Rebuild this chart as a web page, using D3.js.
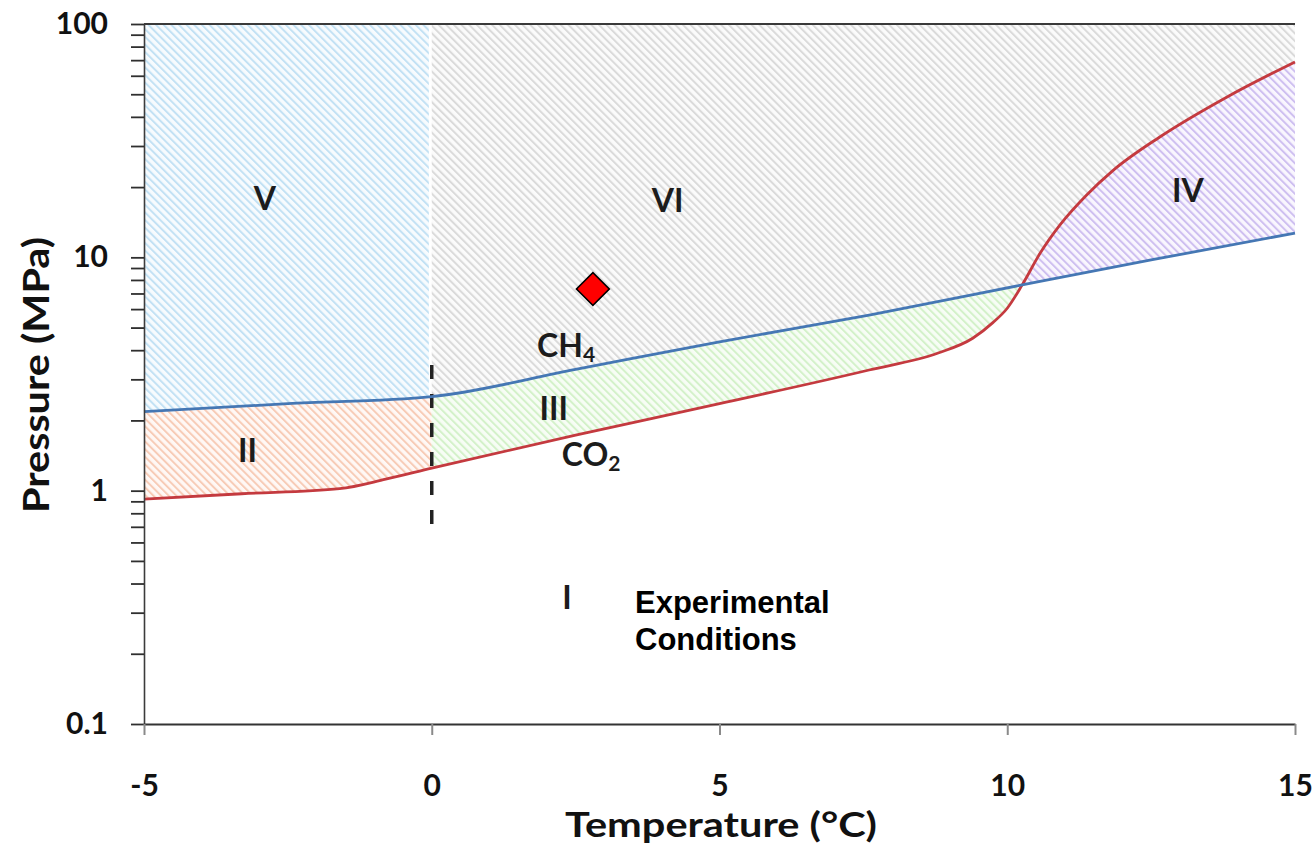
<!DOCTYPE html>
<html>
<head>
<meta charset="utf-8">
<script src="https://cdn.jsdelivr.net/npm/d3@7"></script>
<style>
  body { margin: 0; background: #ffffff; }
  svg { display: block; }
</style>
</head>
<body>
<svg id="chart" width="1315" height="848"></svg>
<script>
// Hydrate equilibrium curves: temperature (°C) vs pressure (MPa)
const ch4Temp = [-5, -2.5, 0, 2.5, 5, 7.6, 10.26, 12.5, 15];
const ch4Pres = [2.18, 2.36, 2.53, 3.31, 4.34, 5.66, 7.62, 9.75, 12.7];

const co2Temp = [-5, -3.3, -1.6, -0.8, 0, 2.5, 5, 7.6, 8.8, 9.4, 9.75, 10.0, 10.26, 10.57, 10.92, 11.38, 11.84, 12.65, 13.82, 15];
const co2Pres = [0.92, 0.97, 1.02, 1.12, 1.25, 1.73, 2.36, 3.29, 3.89, 4.5, 5.25, 6.05, 7.62, 10.4, 13.8, 18.5, 23.6, 32.8, 48.7, 68.8];

// Ice point divider
const iceTemp = [0, 0];
const icePres = [0.68, 3.46];

// Experimental point
const expTemp = [2.8];
const expPres = [7.32];

// Axis ticks
const xTicks = [-5, 0, 5, 10, 15];
const yMajor = [0.1, 1, 10, 100];
const yMajorLabels = ["0.1", "1", "10", "100"];
const yMinor = [0.2, 0.3, 0.4, 0.5, 0.6, 0.7, 0.8, 0.9, 2, 3, 4, 5, 6, 7, 8, 9, 20, 30, 40, 50, 60, 70, 80, 90];

// Region labels
const regionNames = ["I", "II", "III", "IV", "V", "VI"];
const regionTemp = [2.35, -3.2, 2.12, 13.14, -2.9, 4.1];
const regionPres = [0.35, 1.49, 2.24, 19.3, 17.8, 17.6];

const plotLeft = 144, plotRight = 1295, plotTop = 24, plotBottom = 724;

const svg = d3.select("#chart");
const x = d3.scaleLinear().domain([-5, 15]).range([plotLeft, plotRight]);
const y = d3.scaleLog().domain([0.1, 100]).range([plotBottom, plotTop]);

const ch4 = ch4Temp.map((t, i) => [t, ch4Pres[i]]);
const co2 = co2Temp.map((t, i) => [t, co2Pres[i]]);
const curve = d3.curveMonotoneX;

// Hatch patterns
const defs = svg.append("defs");
function hatch(id, bg, fg) {
  const p = defs.append("pattern")
    .attr("id", id)
    .attr("patternUnits", "userSpaceOnUse")
    .attr("width", 5.4).attr("height", 5.4)
    .attr("patternTransform", "rotate(-45)");
  p.append("rect").attr("width", 5.4).attr("height", 5.4).attr("fill", bg);
  p.append("rect").attr("width", 2.0).attr("height", 5.4).attr("fill", fg);
}
hatch("hV", "#f7fbfe", "#c2e1f4");
hatch("hVI", "#fbfbfb", "#dadada");
hatch("hII", "#fff8f5", "#f7cbb6");
hatch("hIII", "#f7fdf5", "#d3f1c9");
hatch("hIV", "#f9f6fe", "#cebff0");

// Clip areas above / below each curve
function clipArea(id, data, above) {
  const a = d3.area()
    .x(d => x(d[0]))
    .y0(above ? y(100) : y(0.1))
    .y1(d => y(d[1]))
    .curve(curve);
  defs.append("clipPath").attr("id", id)
    .append("path").attr("d", a(data));
}
clipArea("aboveCH4", ch4, true);
clipArea("belowCH4", ch4, false);
clipArea("aboveCO2", co2, true);
clipArea("belowCO2", co2, false);

function region(fill, t0, t1, clipA, clipB) {
  svg.append("g").attr("clip-path", `url(#${clipA})`)
    .append("rect")
    .attr("clip-path", clipB ? `url(#${clipB})` : null)
    .attr("x", x(t0)).attr("y", y(100))
    .attr("width", x(t1) - x(t0))
    .attr("height", y(0.1) - y(100))
    .attr("fill", `url(#${fill})`);
}
region("hV", -5, -0.05, "aboveCH4", null);
region("hVI", 0, 15, "aboveCH4", "aboveCO2");
region("hII", -5, 0, "belowCH4", "aboveCO2");
region("hIII", 0, 15, "belowCH4", "aboveCO2");
region("hIV", 0, 15, "aboveCH4", "belowCO2");

// Ice line (dashed)
svg.append("line")
  .attr("x1", x(iceTemp[0])).attr("x2", x(iceTemp[1]))
  .attr("y1", y(icePres[1])).attr("y2", y(icePres[0]))
  .attr("stroke", "#222").attr("stroke-width", 3.5)
  .attr("stroke-dasharray", "14,15");

// Equilibrium curves
const line = d3.line().x(d => x(d[0])).y(d => y(d[1])).curve(curve);
svg.append("path").attr("d", line(co2))
  .attr("fill", "none").attr("stroke", "#c43a3f").attr("stroke-width", 2.8);
svg.append("path").attr("d", line(ch4))
  .attr("fill", "none").attr("stroke", "#4577b4").attr("stroke-width", 2.8);

// Axes
const tickFont = "Lato, 'DejaVu Sans', sans-serif";

const yAxis = d3.axisLeft(y)
  .tickValues(yMajor.concat(yMinor))
  .tickSize(13).tickSizeOuter(0).tickPadding(23)
  .tickFormat(d => { const i = yMajor.indexOf(d); return i >= 0 ? yMajorLabels[i] : ""; });
const gy = svg.append("g").attr("transform", `translate(${plotLeft},0)`).call(yAxis);
gy.select(".domain").attr("stroke", "#3c3c3c").attr("stroke-width", 1.6);
gy.selectAll(".tick line").attr("stroke", "#2f2f2f").attr("stroke-width", 1.8);
gy.selectAll(".tick text")
  .attr("font-family", tickFont).attr("font-weight", 700)
  .attr("font-size", 30).attr("fill", "#111");

const xAxis = d3.axisBottom(x)
  .tickValues(xTicks)
  .tickSize(11).tickSizeOuter(0).tickPadding(40)
  .tickFormat(d => String(d));
const gx = svg.append("g").attr("transform", `translate(0,${plotBottom})`).call(xAxis);
gx.select(".domain").attr("stroke", "#333").attr("stroke-width", 2);
gx.selectAll(".tick line").attr("stroke", "#8a8a8a").attr("stroke-width", 2);
gx.selectAll(".tick text")
  .attr("font-family", tickFont).attr("font-weight", 700)
  .attr("font-size", 30).attr("fill", "#111");

// Top border of plot area
svg.append("line")
  .attr("x1", plotLeft).attr("x2", plotRight)
  .attr("y1", y(100)).attr("y2", y(100))
  .attr("stroke", "#3a3a3a").attr("stroke-width", 2);

// Axis titles
svg.append("text")
  .attr("x", 721).attr("y", 837)
  .attr("text-anchor", "middle")
  .attr("font-family", tickFont).attr("font-weight", 700)
  .attr("font-size", 35).attr("fill", "#111")
  .attr("textLength", 312).attr("lengthAdjust", "spacingAndGlyphs")
  .text("Temperature (°C)");
svg.append("text")
  .attr("transform", "translate(49,375) rotate(-90)")
  .attr("text-anchor", "middle")
  .attr("font-family", tickFont).attr("font-weight", 700)
  .attr("font-size", 37).attr("fill", "#111")
  .attr("textLength", 276).attr("lengthAdjust", "spacingAndGlyphs")
  .text("Pressure (MPa)");

// Region labels
svg.append("g").selectAll("text")
  .data(regionNames)
  .join("text")
  .attr("x", (d, i) => x(regionTemp[i]))
  .attr("y", (d, i) => y(regionPres[i]))
  .attr("dy", "0.36em")
  .attr("text-anchor", "middle")
  .attr("font-family", tickFont).attr("font-weight", 700)
  .attr("font-size", 32).attr("fill", "#1c1c1c")
  .text(d => d);

// Gas labels with subscripts
function gasLabel(t, p, main, sub) {
  const txt = svg.append("text")
    .attr("x", x(t)).attr("y", y(p))
    .attr("font-family", tickFont).attr("font-weight", 700)
    .attr("font-size", 32).attr("fill", "#1c1c1c");
  txt.append("tspan").text(main);
  txt.append("tspan").attr("font-size", 21).attr("dy", 5).text(sub);
}
gasLabel(1.83, 3.74, "CH", "4");
gasLabel(2.26, 1.276, "CO", "2");

// Experimental conditions marker
svg.append("g").selectAll("path")
  .data(expTemp)
  .join("path")
  .attr("transform", (d, i) => `translate(${x(d)},${y(expPres[i])}) rotate(45)`)
  .attr("d", d3.symbol(d3.symbolSquare, 540)())
  .attr("fill", "#ff0000").attr("stroke", "#000").attr("stroke-width", 1.6);

const note = svg.append("text")
  .attr("font-family", "'Liberation Sans', Arial, sans-serif")
  .attr("font-weight", 700).attr("font-size", 31).attr("fill", "#000");
note.append("tspan").attr("x", 635).attr("y", 613).text("Experimental");
note.append("tspan").attr("x", 635).attr("y", 650).text("Conditions");
</script>
</body>
</html>
